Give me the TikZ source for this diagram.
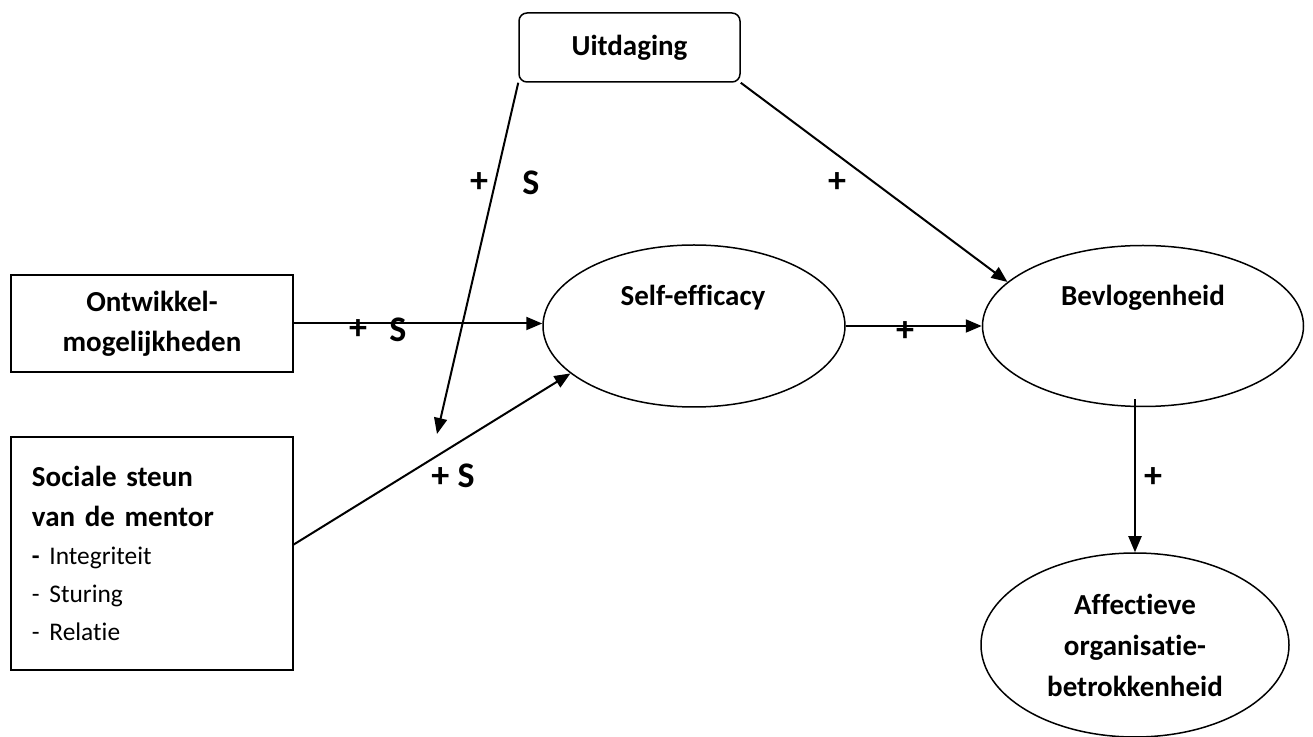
\documentclass[tikz,border=0pt]{standalone}
\usepackage{fontspec}
\setmainfont{Carlito}[Ligatures={NoCommon}]
\usetikzlibrary{arrows.meta,shapes.geometric}

\begin{document}
\begin{tikzpicture}[x=0.5pt,y=-0.5pt,
    box/.style={draw, line width=0.75pt, align=center,
      font=\fontsize{14.5}{20}\selectfont\bfseries},
    oval/.style={draw, ellipse, line width=0.75pt, inner sep=0pt, align=center,
      font=\fontsize{14.5}{20.5}\selectfont\bfseries},
    txt/.style={font=\fontsize{14.5}{20}\selectfont\bfseries, inner sep=0pt},
    sign/.style={font=\fontsize{18}{18}\selectfont\bfseries, inner sep=0pt},
    link/.style={line width=1pt, -{Triangle[length=8pt,width=6.5pt]}}]
    \useasboundingbox (0,0) rectangle (1313,737);
    % factors on the left
    \node[box, minimum width=141pt, minimum height=48.5pt] (ontw) at (152,323.5)
      {Ontwikkel-\\mogelijkheden};
    \node[box, align=left, minimum width=141pt, minimum height=116.5pt,
      text width=120pt, inner xsep=10.5pt] (steun) at (152,553.5)
      {Sociale steun\\van de mentor\par
       \fontsize{12.7}{19}\selectfont\mdseries\textbf{-} Integriteit\\- Sturing\\- Relatie\par};
    \node[box, rounded corners=4pt, minimum width=110.5pt, minimum height=34.5pt]
      (uit) at (629.5,47.5) {Uitdaging};
    % outcomes
    \node[oval, minimum width=151pt, minimum height=81pt] (self) at (694,326) {};
    \node[txt] at (693,298) {Self-efficacy};
    \node[oval, minimum width=160.5pt, minimum height=80.5pt] (bev) at (1143,326) {};
    \node[txt] at (1143,298) {Bevlogenheid};
    \node[oval, minimum width=154pt, minimum height=92pt] (aff) at (1135,645)
      {Affectieve\\organisatie-\\betrokkenheid};
    % paths
    \coordinate (mod) at (437,434);
    \draw[link] (ontw.east) -- (ontw.east -| self.west);
    \draw[link] ([yshift=4.5pt]steun.east) -- (self.201);
    \draw[link] (uit.south west) -- (mod);
    \draw[link] (uit.south east) -- (bev.162);
    \draw[link] (self.east) -- (bev.west);
    \draw[link] ([xshift=-4pt,yshift=4pt]bev.south) -- (aff.north);
    % signs
    \node[sign] at (358,330) {+};
    \node[sign] at (398,330) {S};
    \node[sign] at (479,183) {+};
    \node[sign] at (531,183) {S};
    \node[sign] at (453,476) {+ S};
    \node[sign] at (837,183) {+};
    \node[sign] at (905,332) {+};
    \node[sign] at (1153,478) {+};
  \end{tikzpicture}
\end{document}
